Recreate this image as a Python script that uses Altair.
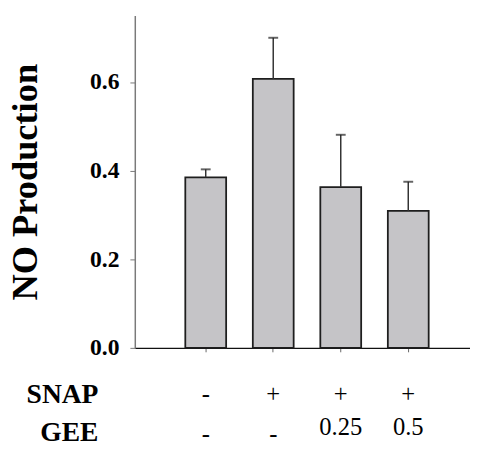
import altair as alt
import pandas as pd

groups = ["Control", "SNAP", "SNAP+GEE 0.25", "SNAP+GEE 0.5"]
no_production = [0.385, 0.607, 0.363, 0.309]
error_upper = [0.403, 0.700, 0.481, 0.375]
snap_signs = ["-", "+", "+", "+"]
gee_doses = ["-", "-", "0.25", "0.5"]
row_labels = ["SNAP", "GEE"]

df = pd.DataFrame({
    "group": groups,
    "value": no_production,
    "upper": error_upper,
    "snap": snap_signs,
    "gee": gee_doses,
})
df["gee_is_dash"] = [g == "-" for g in gee_doses]

SERIF = "Liberation Serif, Times New Roman, Times, serif"

xscale = alt.Scale(domain=groups, paddingInner=0.395, paddingOuter=0.68, align=0.55)
x = alt.X("group:N", scale=xscale, sort=groups,
          axis=alt.Axis(labels=False, title=None, ticks=True, tickSize=4,
                        tickColor="#666", domainColor="#111", domainWidth=1.5))
y = alt.Y("value:Q", scale=alt.Scale(domain=[0, 0.75], nice=False, zero=True),
          axis=alt.Axis(values=[0, 0.2, 0.4, 0.6], format=".1f", grid=False,
                        title="NO Production", titleFont=SERIF, titleFontSize=37,
                        titleFontWeight="bold", titleColor="black",
                        titleAngle=-90, titleX=-100, titleY=169,
                        titleBaseline="alphabetic", titleAlign="center",
                        labelFont=SERIF, labelFontSize=24, labelFontWeight="bold",
                        labelColor="black", labelPadding=11, tickSize=5,
                        tickColor="#777", domainColor="#7a7a7a", domainWidth=1.5))

base = alt.Chart(df)

bars = base.mark_bar(fill="#c5c4c7", stroke="#1e1e1e", strokeWidth=1.8).encode(x=x, y=y)
err = base.mark_rule(color="#333333", strokeWidth=1.5).encode(x=x, y="value:Q", y2="upper:Q")
cap = base.mark_tick(color="#222222", size=10, thickness=2).encode(x=x, y="upper:Q")

snap_text = base.mark_text(font=SERIF, fontSize=25, baseline="middle", color="black").encode(
    x=x, y=alt.value(385), text="snap:N")
gee_num = base.transform_filter("!datum.gee_is_dash").mark_text(
    font=SERIF, fontSize=25, baseline="middle", color="black").encode(
    x=x, y=alt.value(419), text="gee:N")
gee_dash = base.transform_filter("datum.gee_is_dash").mark_text(
    font=SERIF, fontSize=25, baseline="middle", color="black").encode(
    x=x, y=alt.value(426), text="gee:N")

lab_df = pd.DataFrame({"label": row_labels})
snap_lab = alt.Chart(lab_df).transform_filter("datum.label == 'SNAP'").mark_text(
    font=SERIF, fontSize=28, fontWeight="bold", align="right", baseline="middle",
    color="black").encode(x=alt.value(-37), y=alt.value(386), text="label:N")
gee_lab = alt.Chart(lab_df).transform_filter("datum.label == 'GEE'").mark_text(
    font=SERIF, fontSize=28, fontWeight="bold", align="right", baseline="middle",
    color="black").encode(x=alt.value(-37), y=alt.value(425), text="label:N")

chart = alt.layer(bars, err, cap, snap_text, gee_num, gee_dash, snap_lab, gee_lab).properties(
    width=341, height=338,
    autosize=alt.AutoSizeParams(type="none"),
    padding={"left": 129, "top": 4, "right": 0, "bottom": 92},
).configure_view(stroke=None)

chart.save("out.html", embed_options={"renderer": "svg", "actions": False})
